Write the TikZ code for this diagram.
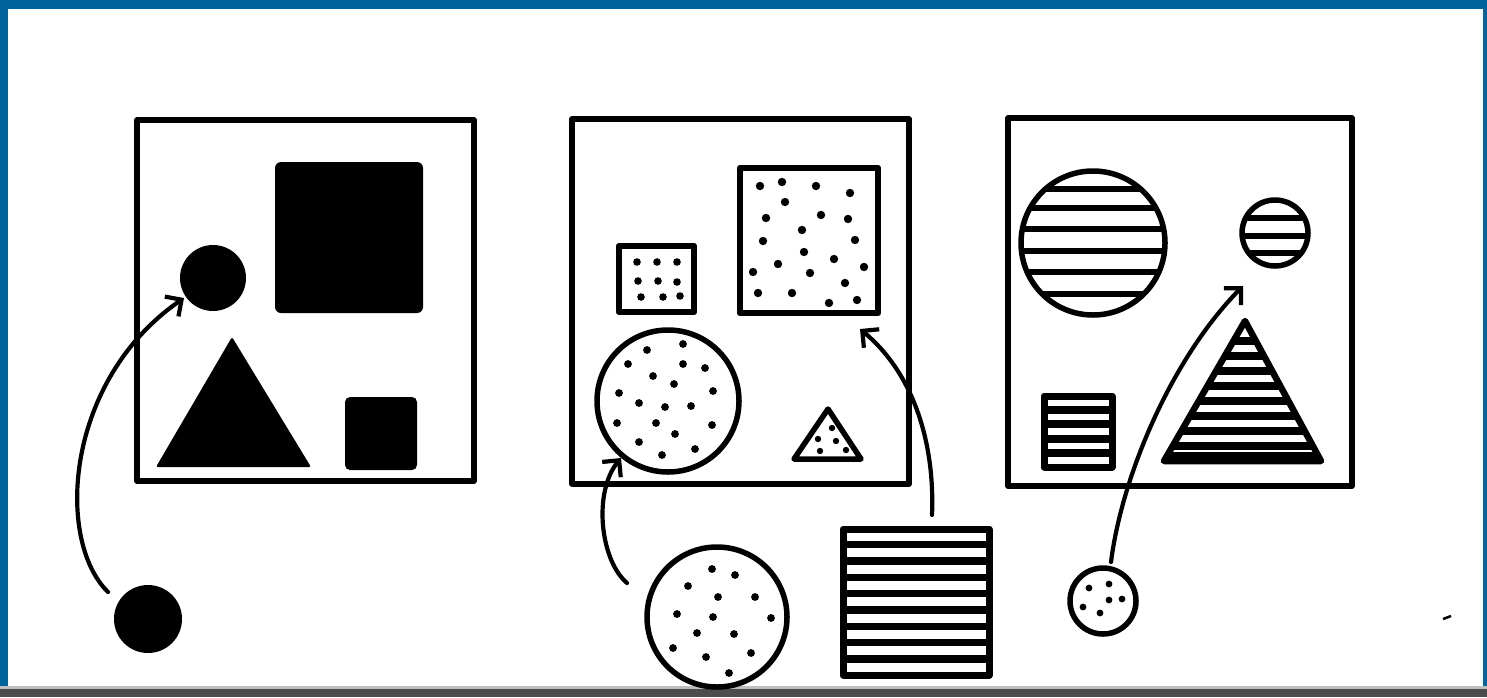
\documentclass[tikz,border=0pt]{standalone}
\usetikzlibrary{arrows.meta}
\definecolor{frameblue}{RGB}{0,99,156}
\begin{document}
\begin{tikzpicture}[x=1pt,y=-1pt,
  panel/.style={line width=5.5pt, line join=round},
  outl/.style={line width=5.5pt, line join=round},
  stripe/.style={line width=6.5pt},
  link/.style={line width=4.2pt, line cap=round, -{Straight Barb[angle=90:17pt]}},
  dotr/.style={fill=black}
]
\useasboundingbox (0,0) rectangle (1487,697);
% page frame
\fill[white] (0,0) rectangle (1487,697);
\fill[frameblue] (0,0) rectangle (1487,9);
\fill[frameblue] (0,0) rectangle (8,697);
\fill[frameblue] (1483,0) rectangle (1487,697);
\fill[black!25] (0,686) rectangle (1487,689);
\fill[black!70] (0,689) rectangle (1487,697);

% ================= left panel =================
\draw[panel] (137,120) rectangle (474,481);
\fill[rounded corners=6pt] (275,162) rectangle (423,313);
\fill (213,278) circle (33);
\fill[rounded corners=2pt] (232,337) -- (311,467) -- (156,467) -- cycle;
\fill[rounded corners=5pt] (345,397) rectangle (417,470);
\fill (148,619) circle (34);
\coordinate (L1s) at (108,592);
\coordinate (L1e) at (184,298);
\draw[link] (L1s) .. controls (55,540) and (65,380) .. (L1e);

% ================= middle panel =================
\draw[panel] (572,119) rectangle (909,484);
% small dotted square
\draw[outl, line width=6.5pt] (619,246) rectangle (694,312);
\foreach \p in {(637,262),(657,262),(677,262),(638,281),(658,281),(677,282),(641,297),(663,297),(680,296)}
  \fill \p circle (3.8);
% big dotted square
\draw[outl, line width=6.5pt] (740,168) rectangle (878,313);
\foreach \p in {(760,186),(782,182),(816,186),(850,193),(785,202),(766,218),(821,215),(848,219),(802,230),(763,241),(855,240),(804,252),(834,259),(778,264),(864,267),(753,272),(810,273),(845,283),(758,293),(792,293),(857,300),(829,303)}
  \fill \p circle (4.2);
% dotted circle
\draw[outl] (668,401) circle (71);
\foreach \p in {(647,350),(683,344),(628,364),(683,364),(705,368),(653,376),(674,384),(619,393),(713,391),(639,403),(665,407),(691,406),(617,423),(656,423),(712,425),(675,434),(639,442),(662,455),(695,449)}
  \fill \p circle (3.9);
% small dotted triangle
\draw[outl] (828,409) -- (861,459) -- (794,459) -- cycle;
\foreach \p in {(832,428),(818,439),(836,441),(820,451),(846,450)}
  \fill \p circle (3.2);
% outside dotted circle
\draw[outl] (717,617) circle (70);
\foreach \p in {(712,569),(735,575),(688,586),(718,597),(755,597),(677,614),(713,617),(771,618),(697,633),(734,634),(673,648),(706,657),(751,653),(729,673)}
  \fill \p circle (3.9);
% outside striped square
\begin{scope}
  \clip (843,529) rectangle (989,675);
  \foreach \y in {544.5,561,577.3,593.7,610,626.3,642.7,659}
    \draw[stripe, line width=7.5pt] (840,\y) -- (992,\y);
\end{scope}
\draw[outl, line width=7pt] (843,529) rectangle (989,675);
\coordinate (M1s) at (627,583);
\coordinate (M1e) at (621,458);
\draw[link] (M1s) .. controls (600,560) and (593,492) .. (M1e);
\coordinate (M2s) at (932,515);
\coordinate (M2e) at (860,329);
\draw[link] (M2s) .. controls (935,440) and (912,372) .. (M2e);

% ================= right panel =================
\draw[panel] (1008,118) rectangle (1352,486);
% big striped circle
\begin{scope}
  \clip (1093,243) circle (72);
  \foreach \y in {189,208,229,251,272,294}
    \draw[stripe] (1015,\y) -- (1170,\y);
\end{scope}
\draw[outl] (1093,243) circle (72);
% small striped circle
\begin{scope}
  \clip (1275,233) circle (33);
  \foreach \y in {218,236,253}
    \draw[stripe] (1235,\y) -- (1315,\y);
\end{scope}
\draw[outl] (1275,233) circle (33);
% small striped square
\begin{scope}
  \clip (1044,396) rectangle (1112,467);
  \foreach \y in {410,424,439,453}
    \draw[stripe, line width=7.5pt] (1040,\y) -- (1116,\y);
\end{scope}
\draw[outl, line width=7pt] (1044,396) rectangle (1112,467);
% striped triangle
\begin{scope}
  \clip (1245,321) -- (1321,461) -- (1164,461) -- cycle;
  \foreach \y in {341,356,371,386,401,416,431,446}
    \draw[stripe, line width=7.5pt] (1150,\y) -- (1330,\y);
  \fill (1150,452) rectangle (1330,462);
\end{scope}
\draw[outl, line width=6.5pt] (1245,321) -- (1321,461) -- (1164,461) -- cycle;
% outside small dotted circle
\draw[outl] (1103,601) circle (33);
\foreach \p in {(1089,588),(1109,584),(1109,600),(1122,599),(1083,607),(1100,613)}
  \fill \p circle (3.4);
\coordinate (R1s) at (1111,562);
\coordinate (R1e) at (1243,286);
\draw[link] (R1s) .. controls (1122,475) and (1172,358) .. (R1e);

% speck
\draw[line width=2.5pt] (1443,619) -- (1451,616);
\end{tikzpicture}
\end{document}
